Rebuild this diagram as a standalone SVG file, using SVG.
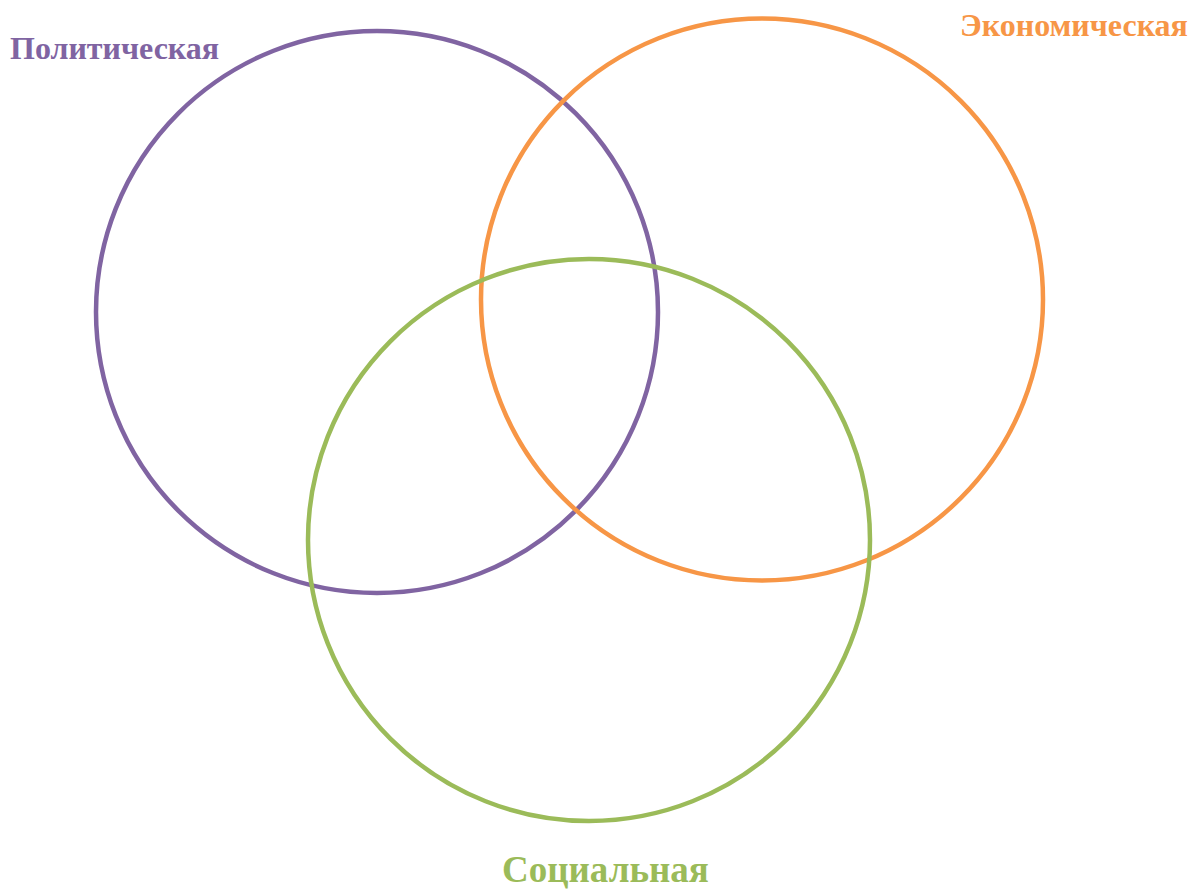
<svg xmlns="http://www.w3.org/2000/svg" width="1192" height="891" viewBox="0 0 1192 891">
<style>
.c{fill:none;stroke-width:4.5}
.t{font-family:"Liberation Serif","Times New Roman",serif;font-weight:bold;font-size:32px}
</style>
<rect width="1192" height="891" fill="#ffffff"/>
<g id="political">
<circle class="c" cx="377" cy="312" r="281" stroke="#8064A2"/>
<text class="t" x="10" y="59" fill="#8064A2">Политическая</text>
</g>
<g id="economic">
<circle class="c" cx="762" cy="299.5" r="281" stroke="#F79646"/>
<text class="t" x="960" y="36" fill="#F79646">Экономическая</text>
</g>
<g id="social">
<circle class="c" cx="589" cy="540" r="281" stroke="#9BBB59"/>
<text class="t" x="502" y="882" fill="#9BBB59" style="font-size:37px">Социальная</text>
</g>
<g id="connectors"></g>
</svg>
